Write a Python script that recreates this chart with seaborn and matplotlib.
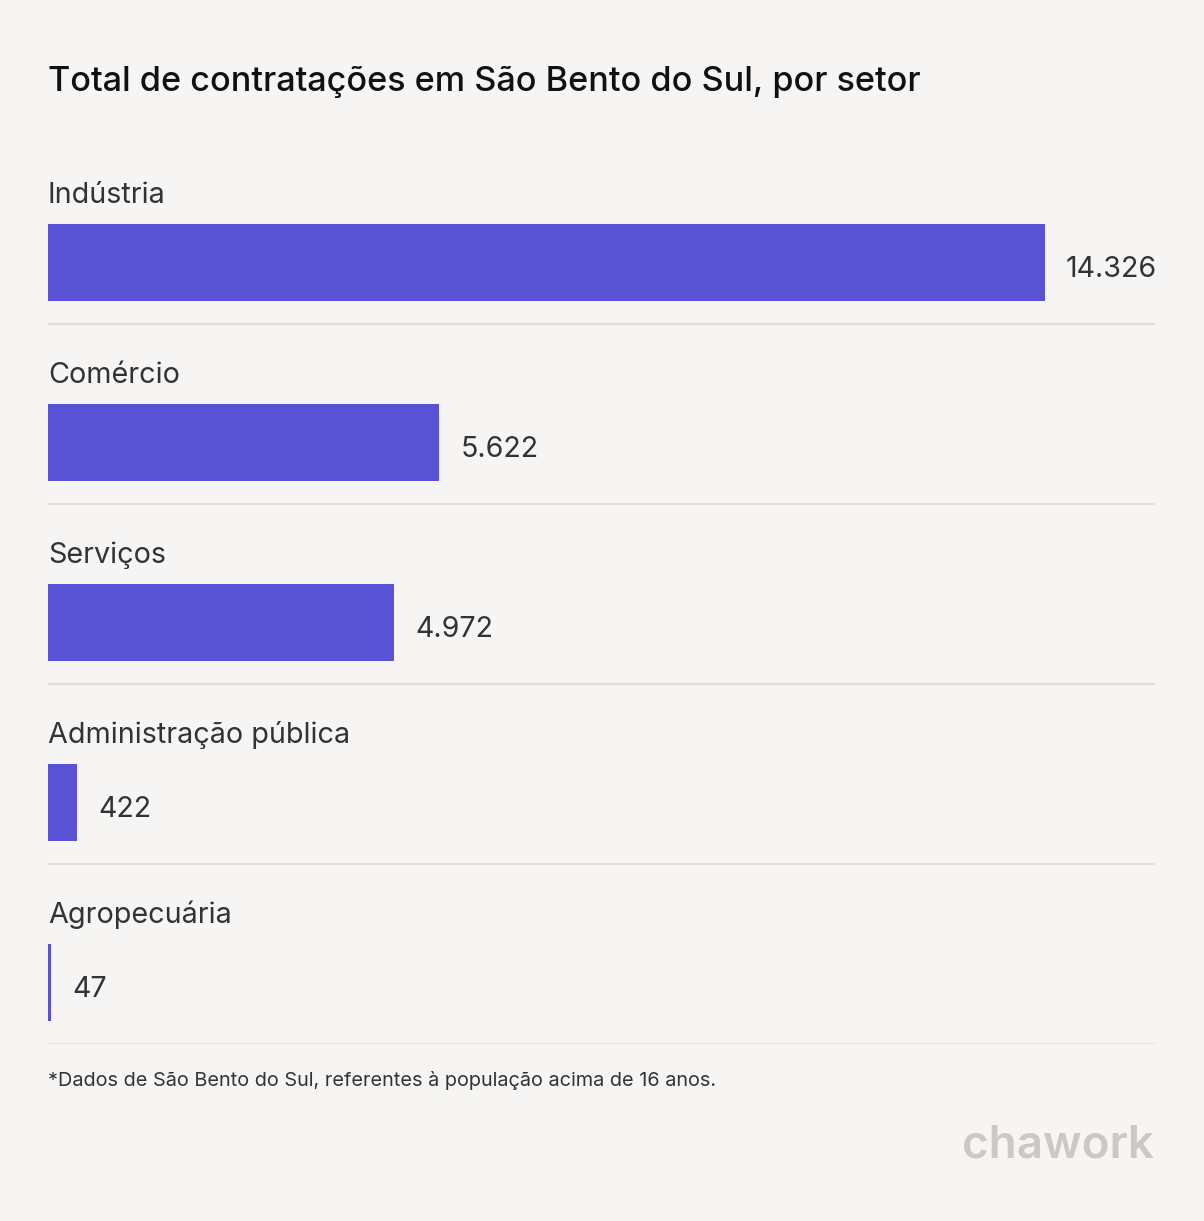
import matplotlib
matplotlib.use("Agg")
import matplotlib.pyplot as plt
import seaborn as sns
import pandas as pd

categories = ["Indústria", "Comércio", "Serviços", "Administração pública", "Agropecuária"]
values = [14326, 5622, 4972, 422, 47]

title = "Total de contratações em São Bento do Sul, por setor"
footnote = "*Dados de São Bento do Sul, referentes à população acima de 16 anos."
logo = "chawork"

BG = "#f6f5f3"
BAR = "#5a52d5"
TXT = "#333333"
SEP = "#e1dfdb"

sns.set_theme(style="white")
plt.rcParams["font.family"] = ["Inter", "DejaVu Sans"]

W, H = 1204, 1221
fig = plt.figure(figsize=(W / 100, H / 100), dpi=100, facecolor=BG)

left, right, top, bottom = 48, 1155, 144, 1044
ax = fig.add_axes([left / W, 1 - bottom / H, (right - left) / W, (bottom - top) / H])
ax.set_facecolor(BG)

df = pd.DataFrame({"setor": categories, "valor": values})
sns.barplot(data=df, x="valor", y="setor", orient="h", color=BAR, width=0.425,
            saturation=1, linewidth=0, ax=ax)

xmax = values[0] * (right - left) / (1045 - left)
ax.set_xlim(0, xmax)
ax.set_ylim(len(categories) - 0.658, -0.658)

for i, (c, v) in enumerate(zip(categories, values)):
    ax.text(0, i - 0.328, c, ha="left", va="baseline", fontsize=20.7, color=TXT)
    ax.annotate(f"{v:,}".replace(",", "."), xy=(v, i), xytext=(21, -14.5),
                textcoords="offset pixels", ha="left", va="baseline",
                fontsize=20.6, color=TXT)
    ax.axhline(i + 0.342, color=SEP, lw=1.5, xmin=0, xmax=1)

for s in ax.spines.values():
    s.set_visible(False)
ax.set_xticks([])
ax.set_yticks([])
ax.set_xlabel("")
ax.set_ylabel("")

fig.text(left / W, 1 - 90.5 / H, title, ha="left", va="baseline", fontsize=24.6,
         fontweight="medium", color="#111111")
fig.text(left / W, 1 - 1086.5 / H, footnote, ha="left", va="baseline", fontsize=14.3, color=TXT)
fig.text(1154 / W, 1 - 1158 / H, logo, ha="right", va="baseline", fontsize=33,
         fontweight="semibold", color="#ccc9c2")

fig.savefig("out.png", dpi=100, facecolor=BG)
